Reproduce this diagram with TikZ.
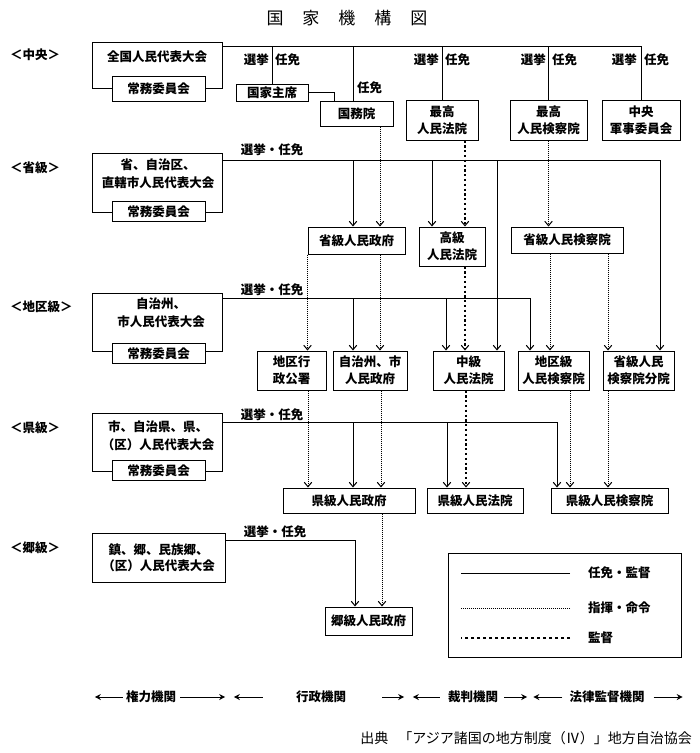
\documentclass[tikz,border=0pt]{standalone}
\usepackage{fontspec}
\setmainfont{Noto Sans CJK JP}
\usetikzlibrary{arrows.meta,calc}
\begin{document}
\begin{tikzpicture}[x=1pt,y=-1pt,
  every node/.style={font=\fontsize{12.5}{17}\selectfont\bfseries, inner sep=0pt},
  box/.style={draw, line width=1pt, align=center, fill=white},
  frame/.style={draw, line width=1pt},
  con/.style={line width=0.8pt},
  arr/.style={-{Straight Barb[length=4.5pt,width=7.5pt,line width=1pt]}},
  ctl/.style={line width=0.8pt, dash pattern=on 0.8pt off 1.2pt},
  supv/.style={line width=2pt, dash pattern=on 2.2pt off 2.6pt},
  barr/.style={line width=1pt, -{Stealth[length=6pt,width=6pt]}},
  lvl/.style={anchor=west},
]
\useasboundingbox (0,0) rectangle (700,753);

% title
\node[font=\fontsize{17}{17}\selectfont] (title) at (347,18) {国\hspace{19pt}家\hspace{19pt}機\hspace{19pt}構\hspace{19pt}図};

% level labels
\node[lvl] (lc) at (10,55) {＜中央＞};
\node[lvl] (ls) at (10,168) {＜省級＞};
\node[lvl] (ld) at (10,307) {＜地区級＞};
\node[lvl] (lx) at (10,428) {＜県級＞};
\node[lvl] (la) at (10,548) {＜郷級＞};

% ---------- central ----------
\node[frame, minimum width=130pt, minimum height=46pt] (zg) at (157,65) {};
\node (zgt) at (157,57) {全国人民代表大会};
\node[box, minimum width=93pt, minimum height=25pt] (zgc) at (158.5,88.5) {常務委員会};
\node[box, minimum width=72pt, minimum height=17pt] (zt) at (272,92.5) {国家主席};
\node[box, minimum width=73pt, minimum height=25pt] (gw) at (356.5,113.5) {国務院};
\node[box, minimum width=72pt, minimum height=40pt] (zf) at (442,120) {最高\\人民法院};
\node[box, minimum width=77pt, minimum height=40pt] (zj) at (548.5,120) {最高\\人民検察院};
\node[box, minimum width=78pt, minimum height=40pt] (jun) at (641,120) {中央\\軍事委員会};

\coordinate (ctop) at ($(zg.north east)+(0,5)$);
\draw[con] (ctop) -| (jun.north);
\draw[con] (zt.north |- ctop) -- (zt.north);
\draw[con] (353,0 |- ctop) -- (353,0 |- gw.north);
\draw[con] (zf.north |- ctop) -- (zf.north);
\draw[con] (zj.north |- ctop) -- (zj.north);
\draw[con] (zt.east) -| (334,0 |- gw.north);

\node[anchor=east] (c1a) at (269,60) {選挙};
\node[anchor=west] (c1b) at (275,60) {任免};
\node[anchor=west] (c2b) at (357,88) {任免};
\node[anchor=east] (c3a) at (439,60) {選挙};
\node[anchor=west] (c3b) at (445,60) {任免};
\node[anchor=east] (c4a) at (546,60) {選挙};
\node[anchor=west] (c4b) at (552,60) {任免};
\node[anchor=east] (c5a) at (637,60) {選挙};
\node[anchor=west] (c5b) at (644,60) {任免};

% ---------- province ----------
\node[frame, minimum width=130pt, minimum height=59pt] (sp) at (157,182.5) {};
\node[align=center, font=\fontsize{12.5}{18}\selectfont\bfseries] (spt) at (158,174) {省、自治区、\\直轄市人民代表大会};
\node[box, minimum width=93pt, minimum height=20pt] (spc) at (158.5,211.5) {常務委員会};
\coordinate (stop) at ($(sp.north east)+(0,8)$);
\node (sl) at (272,150) {選挙・任免};

\node[box, minimum width=97pt, minimum height=27pt] (sz) at (356.5,240.5) {省級人民政府};
\node[box, minimum width=66pt, minimum height=39pt] (sg) at (452,246.5) {高級\\人民法院};
\node[box, minimum width=112pt, minimum height=26pt] (sj) at (567,240) {省級人民検察院};

% ---------- district ----------
\node[frame, minimum width=130pt, minimum height=58pt] (dp) at (157,322) {};
\node[align=center, font=\fontsize{12.5}{18}\selectfont\bfseries] (dpt) at (161,312.5) {自治州、\\市人民代表大会};
\node[box, minimum width=93pt, minimum height=20pt] (dpc) at (158.5,353.5) {常務委員会};
\coordinate (dtop) at ($(dp.north east)+(0,6)$);
\node (dl) at (272,290) {選挙・任免};

\node[box, minimum width=69pt, minimum height=39pt] (dx) at (291.5,370.5) {地区行\\政公署};
\node[box, minimum width=74pt, minimum height=39pt] (dz) at (370,370.5) {自治州、市\\人民政府};
\node[box, minimum width=71pt, minimum height=39pt] (dg) at (468.5,370.5) {中級\\人民法院};
\node[box, minimum width=71pt, minimum height=39pt] (dj) at (553.5,370.5) {地区級\\人民検察院};
\node[box, minimum width=71pt, minimum height=39pt] (fy) at (638.5,370.5) {省級人民\\検察院分院};

% ---------- county ----------
\node[frame, minimum width=130pt, minimum height=58pt] (xp) at (157,442) {};
\node[align=center, font=\fontsize{12.5}{18}\selectfont\bfseries] (xpt) at (158,436) {市、自治県、県、\\（区）人民代表大会};
\node[box, minimum width=93pt, minimum height=20pt] (xpc) at (158.5,470.5) {常務委員会};
\coordinate (xtop) at ($(xp.north east)+(0,10)$);
\node (xl) at (272,415) {選挙・任免};

\node[box, minimum width=132pt, minimum height=25pt] (xz) at (349,500.5) {県級人民政府};
\node[box, minimum width=96pt, minimum height=25pt] (xg) at (475,500.5) {県級人民法院};
\node[box, minimum width=117pt, minimum height=25pt] (xj) at (609.5,500.5) {県級人民検察院};

% ---------- township ----------
\node[box, minimum width=133pt, minimum height=49pt, font=\fontsize{12.5}{16}\selectfont\bfseries] (xa) at (158.5,557.5) {鎮、郷、民族郷、\\（区）人民代表大会};
\node (al) at (275,532) {選挙・任免};
\node[box, minimum width=87pt, minimum height=28pt] (xs) at (368.5,621) {郷級人民政府};

% ---------- solid connectors ----------
\draw[con,arr] (stop) -| (660,0 |- fy.north);
\draw[con,arr] (353,0 |- stop) -- (353,0 |- sz.north);
\draw[con,arr] (432,0 |- stop) -- (432,0 |- sg.north);
\draw[con,arr] (497,0 |- stop) -- (497,0 |- dg.north);

\draw[con,arr] (dtop) -| (530,0 |- dj.north);
\draw[con,arr] (353,0 |- dtop) -- (353,0 |- dz.north);
\draw[con,arr] (446,0 |- dtop) -- (446,0 |- dg.north);

\draw[con,arr] (xtop) -| (557,0 |- xj.north);
\draw[con,arr] (353,0 |- xtop) -- (353,0 |- xz.north);
\draw[con,arr] (447,0 |- xtop) -- (447,0 |- xg.north);

\draw[con,arr] ($(xa.north east)+(0,8)$) -| (355,0 |- xs.north);

% ---------- command (dotted) and supervision (dashed) ----------
\draw[ctl,arr] (gw.south -| 380,0) -- (sz.north -| 380,0);
\draw[supv,arr] (zf.south -| 465,0) -- (sg.north -| 465,0);
\draw[ctl,arr] (zj.south) -- (sj.north -| zj.south);

\draw[ctl,arr] (sz.south west) -- (dx.north -| sz.south west);
\draw[ctl,arr] (sz.south -| 380,0) -- (dz.north -| 380,0);
\draw[supv,arr] (sg.south -| 465,0) -- (dg.north -| 465,0);
\draw[ctl,arr] (sj.south -| 550,0) -- (dj.north -| 550,0);
\draw[ctl,arr] (sj.south -| 608,0) -- (fy.north -| 608,0);

\draw[ctl,arr] (dx.south -| 308,0) -- (xz.north -| 308,0);
\draw[ctl,arr] (dz.south -| 381,0) -- (xz.north -| 381,0);
\draw[supv,arr] (dg.south -| 466,0) -- (xg.north -| 466,0);
\draw[ctl,arr] (dj.south -| 570,0) -- (xj.north -| 570,0);
\draw[ctl,arr] (fy.south -| 608,0) -- (xj.north -| 608,0);

\draw[ctl,arr] (xz.south -| 382,0) -- (xs.north -| 382,0);

% ---------- legend ----------
\node[frame, minimum width=233pt, minimum height=104pt] (leg) at (564.5,605) {};
\node[anchor=west] (lg1) at (588,573) {任免・監督};
\node[anchor=west] (lg2) at (588,608) {指揮・命令};
\node[anchor=west] (lg3) at (588,638) {監督};
\draw[con] ($(lg1.west)+(-18,0)$) -- ++(-109,0);
\draw[ctl] ($(lg2.west)+(-18,0)$) -- ++(-109,0);
\draw[supv, line width=1.6pt, dash pattern=on 3pt off 3pt] ($(lg3.west)+(-18,0)$) -- ++(-109,0);

% ---------- bottom row ----------
\node (b1) at (151,697) {権力機関};
\node (b2) at (321,697) {行政機関};
\node (b3) at (473,697) {裁判機関};
\node (b4) at (607,697) {法律監督機関};
\draw[barr] ($(b1.west)+(-3,0)$) -- ++(-28,0);
\draw[barr] ($(b1.east)+(4,0)$) -- ++(45,0);
\draw[barr] ($(b2.west)+(-33,0)$) -- ++(-29,0);
\draw[barr] ($(b2.east)+(36,0)$) -- ++(22,0);
\draw[barr] ($(b3.west)+(-8,0)$) -- ++(-27,0);
\draw[barr] ($(b3.east)+(6,0)$) -- ++(23,0);
\draw[barr] ($(b4.west)+(-7,0)$) -- ++(-29,0);
\draw[barr] ($(b4.east)+(9,0)$) -- ++(29,0);

% ---------- source ----------
\node[anchor=east, font=\fontsize{14}{14}\selectfont] (src) at (692,738) {出典\hspace{10pt}「アジア諸国の地方制度（Ⅳ）」地方自治協会};
\end{tikzpicture}
\end{document}
